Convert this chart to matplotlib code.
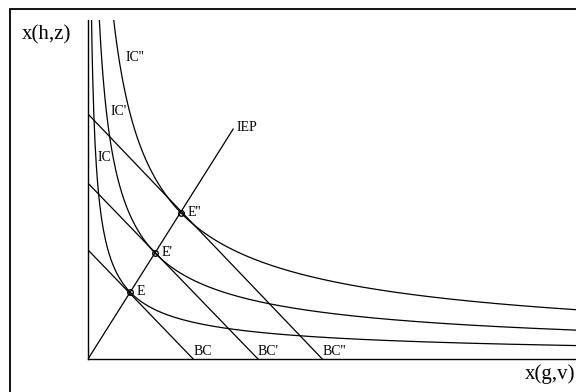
import matplotlib
matplotlib.use("Agg")
import matplotlib.pyplot as plt
import numpy as np
from matplotlib.patches import Rectangle

plt.rcParams.update({
    "font.family": ["Liberation Serif", "DejaVu Serif"],
    "axes.linewidth": 1.0,
})

# budget constraints: intercepts on the x(g,v) and x(h,z) axes
bc_labels = ["BC", "BC'", "BC''"]
bc_x_int = [2.16, 3.49, 4.81]
bc_y_int = [2.24, 3.61, 5.03]

# equilibrium points (tangency of IC with BC)
eq_labels = ["E", "E'", "E''"]
eq_x = [0.862, 1.376, 1.910]
eq_y = [1.376, 2.177, 2.998]

# indifference curves: curvature exponent and label positions
ic_labels = ["IC", "IC'", "IC''"]
ic_exp = 0.655
ic_label_x = [0.19, 0.47, 0.78]
ic_label_y = [4.13, 5.09, 6.20]

# income expansion path end point
iep_end = (2.98, 4.72)

XMAX, YMAX = 10.02, 6.96


def main():
    fig = plt.figure(figsize=(5.76, 3.92), dpi=100)
    fig.patch.set_facecolor("white")
    ax = fig.add_axes([88 / 576, 33 / 392, 488 / 576, 339 / 392])
    ax.set_xlim(0, XMAX)
    ax.set_ylim(0, YMAX)
    for s in ("top", "right"):
        ax.spines[s].set_visible(False)
    ax.set_xticks([])
    ax.set_yticks([])

    # indifference curves through each equilibrium
    u = np.linspace(0.02, XMAX, 800)
    for ex, ey, lab, lx, ly in zip(eq_x, eq_y, ic_labels, ic_label_x, ic_label_y):
        v = ey * (u / ex) ** (-ic_exp)
        ax.plot(u, v, color="black", lw=0.9)
        ax.text(lx, ly, lab, fontsize=10, ha="left", va="center")

    # budget lines
    for xi, yi, lab in zip(bc_x_int, bc_y_int, bc_labels):
        ax.plot([0, xi], [yi, 0], color="black", lw=0.9)
        ax.text(xi, 0.02, lab, fontsize=10, ha="left", va="bottom")

    # income expansion path
    ax.plot([0, iep_end[0]], [0, iep_end[1]], color="black", lw=0.9)
    ax.text(iep_end[0] + 0.06, iep_end[1] + 0.04, "IEP", fontsize=10, ha="left", va="center")

    # equilibria
    ax.plot(eq_x, eq_y, "o", ms=4, mfc="none", mec="black", mew=1.0)
    for ex, ey, lab in zip(eq_x, eq_y, eq_labels):
        ax.text(ex + 0.14, ey, lab, fontsize=10, ha="left", va="center")

    fig.text(22 / 576, 1 - 35 / 392, "x(h,z)", fontsize=15, ha="left", va="center")
    fig.text(575 / 576, 1 - 374 / 392, "x(g,v)", fontsize=15, ha="right", va="center")

    # outer frame
    fig.patches.append(Rectangle((10 / 576, -0.1), 1.2, 1 - 9 / 392 + 0.1,
                                 transform=fig.transFigure, fill=False,
                                 edgecolor="black", lw=1.3))

    fig.savefig("out.png", dpi=100, facecolor="white")
    plt.close(fig)


if __name__ == "__main__":
    main()
